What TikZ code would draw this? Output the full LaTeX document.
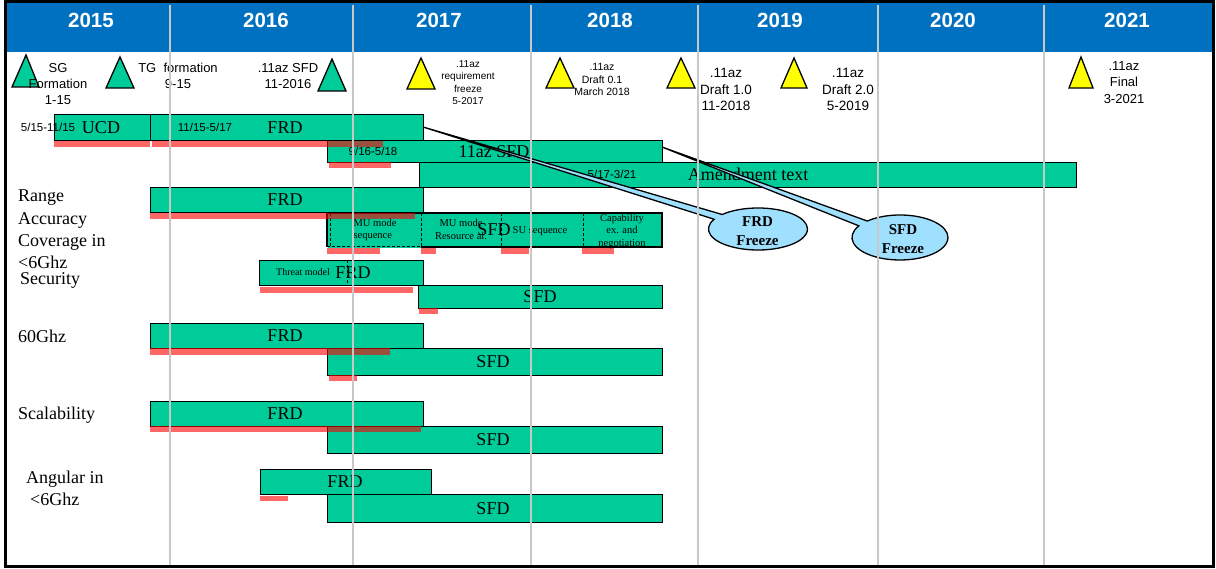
\documentclass[tikz,border=0pt]{standalone}
\usepackage{fontspec}
\setmainfont{Liberation Serif}
\setsansfont{Liberation Sans}
\usetikzlibrary{shapes.callouts}
\definecolor{grn}{RGB}{0,204,153}
\definecolor{hdr}{RGB}{0,112,192}
\definecolor{vgray}{RGB}{200,200,200}
\definecolor{ylw}{RGB}{255,255,0}
\definecolor{cblue}{RGB}{160,224,255}
\newcommand\fsz[2]{\fontsize{#1}{#2}\selectfont}
\newcommand\gbar[5]{\node[gbar, minimum width={(#4-#2)*1pt}, minimum height={(#5-#3)*1pt}] (#1) at (#2,#3) {};}
\begin{document}
\begin{tikzpicture}[x=1pt,y=-1pt,
  gbar/.style={draw=black, line width=1.3pt, fill=grn, inner sep=0pt, anchor=north west},
  rbar/.style={fill=red, fill opacity=0.6},
  tri/.style={draw=black, line width=1.3pt, line join=miter},
  vline/.style={draw=vgray, line width=1.5pt},
  year/.style={font=\sffamily\bfseries\fsz{20.5}{24}, text=white, inner sep=0pt},
  mtxt/.style={font=\sffamily\fsz{13}{16}, align=center, inner sep=0pt},
  stxt/.style={font=\sffamily\fsz{10.5}{12.5}, align=center, inner sep=0pt},
  lbl/.style={font=\fsz{18}{22}, anchor=base west, inner sep=0pt},
  btxt/.style={font=\fsz{18}{22}, anchor=base, inner sep=0pt},
  dtxt/.style={font=\sffamily\fsz{11.5}{14}, anchor=base, inner sep=0pt},
  mtx/.style={font=\fsz{10.5}{12.5}, inner sep=0pt},
  dsh/.style={draw=black, line width=1pt, dash pattern=on 3pt off 2pt},
  call/.style={ellipse callout, draw=black, line width=1.3pt, fill=cblue, inner sep=0pt, callout pointer arc=16},
  ctxt/.style={font=\bfseries\fsz{15}{19}, align=center, inner sep=0pt}
]
\useasboundingbox (0,0) rectangle (1216,569);
\fill[white] (0,0) rectangle (1216,569);
% header
\fill[hdr] (7,3) rectangle (1213,52);
\node[year] (y2015) at (91,20) {2015};
\node[year] (y2016) at (266,20) {2016};
\node[year] (y2017) at (439,20) {2017};
\node[year] (y2018) at (610,20) {2018};
\node[year] (y2019) at (780,20) {2019};
\node[year] (y2020) at (953,20) {2020};
\node[year] (y2021) at (1127,20) {2021};
% milestones
\draw[tri, fill=grn] (26,55) -- (39,87) -- (12,87) -- cycle;
\draw[tri, fill=grn] (120,57) -- (134,88) -- (106,88) -- cycle;
\draw[tri, fill=grn] (332,59) -- (346,91) -- (318,91) -- cycle;
\draw[tri, fill=ylw] (421,58) -- (435,89) -- (407,89) -- cycle;
\draw[tri, fill=ylw] (560,58) -- (574,88) -- (546,88) -- cycle;
\draw[tri, fill=ylw] (681,58) -- (695,88) -- (667,88) -- cycle;
\draw[tri, fill=ylw] (794,58) -- (807,88) -- (781,88) -- cycle;
\draw[tri, fill=ylw] (1081,57) -- (1093,88) -- (1069,88) -- cycle;
\node[mtxt] (m1) at (58,84) {SG\\Formation\\1-15};
\node[mtxt] (m2) at (178,76) {TG\ \ formation\\9-15};
\node[mtxt] (m3) at (288,76) {.11az SFD\\11-2016};
\node[stxt, font=\sffamily\fsz{10}{12.3}] (m4) at (468,82.5) {.11az\\requirement\\freeze\\5-2017};
\node[stxt] (m5) at (602,79.5) {.11az\\Draft 0.1\\March 2018};
\node[mtxt, font=\sffamily\fsz{13.5}{16.5}] (m6) at (726,89.5) {.11az\\Draft 1.0\\11-2018};
\node[mtxt, font=\sffamily\fsz{13.5}{16.5}] (m7) at (848,89.5) {.11az\\Draft 2.0\\5-2019};
\node[mtxt, font=\sffamily\fsz{13}{16.5}] (m8) at (1124,82.5) {.11az\\Final\\3-2021};
% bars
\gbar{ucd}{54}{114}{150}{140}
\gbar{frd0}{150}{114}{423}{140}
\gbar{sfd0}{327}{140}{662}{162}
\gbar{amd}{419}{162}{1076}{187}
\gbar{frdA}{150}{187}{423}{212}
\node[gbar, draw=none, minimum width=335pt, minimum height=34pt] (sfdA) at (327,213) {};
\draw[black, line width=1.3pt] (421,247) -- (662,247) -- (662,213) -- (327,213) -- (327,247);
\draw[dsh] (327,247) -- (421,247);
\draw[dsh] (330,213) -- (330,247);
\draw[dsh] (421,213) -- (421,247);
\draw[dsh] (501,213) -- (501,247);
\draw[dsh] (583,213) -- (583,247);
\gbar{frdS}{259}{260}{423}{285}
\draw[dsh] (347,260) -- (347,285);
\gbar{sfdS}{418}{285}{662}{308}
\gbar{frdG}{150}{323}{423}{348}
\gbar{sfdG}{327}{348}{662}{375}
\gbar{frdC}{150}{401}{423}{426}
\gbar{sfdC}{327}{426}{662}{453}
\gbar{frdN}{260}{469}{431}{494}
\gbar{sfdN}{327}{494}{662}{522}
% red progress bars
\fill[rbar] (54,141) rectangle (150,147);
\fill[rbar] (152,141) rectangle (383,147);
\fill[rbar] (329,162) rectangle (391,168);
\fill[rbar] (150,213) rectangle (415,219);
\fill[rbar] (327,248) rectangle (380,254);
\fill[rbar] (421,248) rectangle (436,254);
\fill[rbar] (501,248) rectangle (529,254);
\fill[rbar] (582,248) rectangle (614,254);
\fill[rbar] (260,287) rectangle (413,293);
\fill[rbar] (419,308) rectangle (438,314);
\fill[rbar] (150,348) rectangle (390,355);
\fill[rbar] (329,375) rectangle (357,381);
\fill[rbar] (150,426) rectangle (421,432);
\fill[rbar] (260,496) rectangle (288,501);
% bar texts
\node[dtxt] (d1) at (48,132) {5/15-11/15};
\node[btxt] (t1) at (101,134) {UCD};
\node[dtxt] (d2) at (205,132) {11/15-5/17};
\node[btxt] (t2) at (285,134) {FRD};
\node[dtxt] (d3) at (373,156) {9/16-5/18};
\node[btxt] (t3) at (494,157.5) {11az SFD};
\node[dtxt] (d4) at (612,178.5) {5/17-3/21};
\node[btxt] (t4) at (748,180.5) {Amendment text};
\node[btxt] (t5) at (285,205.5) {FRD};
\node[btxt] (t6) at (494,236) {SFD};
\node[mtx, align=left] (mu1) at (375,230) {MU mode\\sequence};
\node[mtx, align=center] (mu2) at (461,229.5) {MU mode\\Resource al.};
\node[mtx] (su) at (540,231) {SU sequence};
\node[mtx, align=center] (cap) at (622,231) {Capability\\ex. and\\negotiation};
\node[mtx, font=\fsz{10}{12}] (thr) at (303,272) {Threat model};
\node[btxt] (t7) at (353,278.5) {FRD};
\node[btxt] (t8) at (540,302.5) {SFD};
\node[btxt] (t9) at (285,341.5) {FRD};
\node[btxt] (t10) at (493,367.5) {SFD};
\node[btxt] (t11) at (285,419.5) {FRD};
\node[btxt] (t12) at (493,445.5) {SFD};
\node[btxt] (t13) at (345,487.5) {FRD};
\node[btxt] (t14) at (493,514) {SFD};
% left labels
\node[lbl] (l1) at (18,202) {Range};
\node[lbl] (l2) at (18,225) {Accuracy};
\node[lbl] (l3) at (18,247) {Coverage in};
\node[lbl] (l4) at (18,269) {<6Ghz};
\node[lbl] (l5) at (20,285) {Security};
\node[lbl] (l6) at (18,343) {60Ghz};
\node[lbl] (l7) at (18,419) {Scalability};
\node[lbl] (l8) at (26,483) {Angular in};
\node[lbl] (l9) at (30,505) {<6Ghz};
% callouts
\coordinate (frdtip) at (423,127);
\coordinate (sfdtip) at (662,147);
\node[call, minimum width=99pt, minimum height=42pt, callout absolute pointer={(frdtip)}] (frdc) at (758,229) {};
\node[call, minimum width=96pt, minimum height=45pt, callout absolute pointer={(sfdtip)}] (sfdc) at (900,237.5) {};
\node[ctxt] (frdct) at (757.5,231.5) {FRD\\Freeze};
\node[ctxt] (sfdct) at (903,239.5) {SFD\\Freeze};
% grid lines
\foreach \gx in {170,353,531,698,878,1044} \draw[vline] (\gx,5) -- (\gx,565);
% frame
\draw[black, line width=3pt] (5.5,1.5) rectangle (1213.5,566.5);
\end{tikzpicture}
\end{document}
